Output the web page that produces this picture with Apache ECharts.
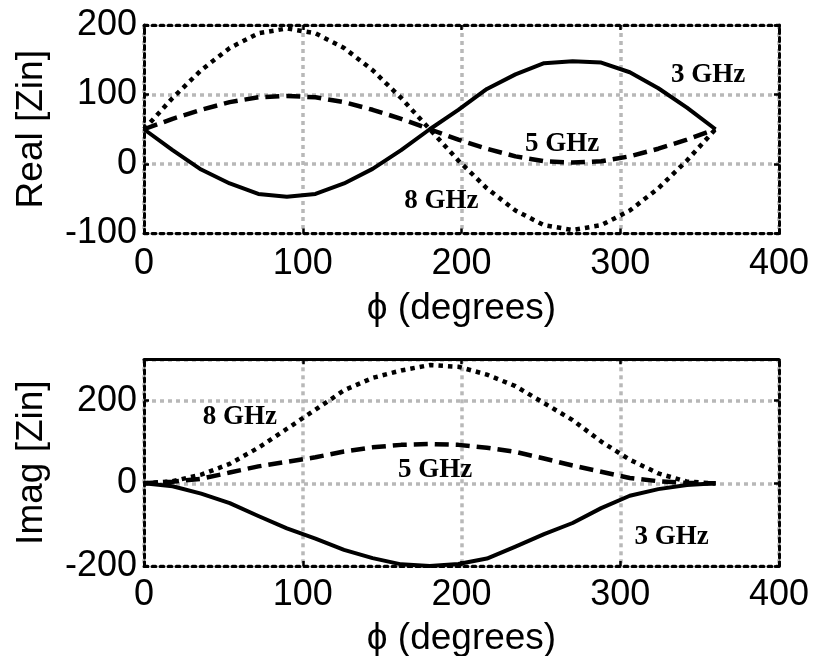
<!DOCTYPE html>
<html><head><meta charset="utf-8">
<script src="https://cdn.jsdelivr.net/npm/echarts@6/dist/echarts.min.js"></script>
<style>html,body{margin:0;padding:0;background:#fff}#c{width:818px;height:656px}</style>
</head><body><div id="c"></div>
<script>
// ---- data ----
const phi = [0,18,36,54,72,90,108,126,144,162,180,198,216,234,252,270,288,306,324,342,360];
const re3 = [50,20,-8,-28,-43,-47,-43,-28,-7,20,50,78,108,129,145,148,146,132,109,81,50];
const re5 = [50,65,78,89,96,98,96,89,78,65,50,35,22,11,4,2,4,11,22,35,50];
const re8 = [50,95,135,167,188,195,188,167,135,95,50,5,-35,-67,-88,-95,-88,-67,-35,5,50];
const im3 = [0,-7,-25,-48,-79,-109,-134,-161,-181,-196,-200,-195,-182,-153,-123,-96,-60,-30,-14,-4,0];
const im5 = [0,4,11,26,41,52,63,77,87,93,95,93,86,76,60,43,28,13,5,1,0];
const im8 = [0,5,21,47,86,132,178,225,255,273,286,282,263,235,194,153,101,57,24,4,0];
const xTicks = [0,100,200,300,400];
const reTicks = [-100,0,100,200];
const imTicks = [-200,0,200];
const reNotes = [[332,128,'3 GHz'],[240,29,'5 GHz'],[164,-53,'8 GHz']];
const imNotes = [[37,161,'8 GHz'],[160,32,'5 GHz'],[309,-129,'3 GHz']];

// ---- style ----
const FONT = '"Liberation Sans", Arial, sans-serif';
const SERIF = '"Liberation Serif", "Times New Roman", serif';
const GRIDC = '#b8b8b8';

function pairs(ys){ return phi.map((x,i)=>[x, ys[i]]); }

function mainX(gi, nameGap, margin){
  return {type:'value', gridIndex:gi, position:'bottom', min:0, max:400, interval:100,
    name:'\u03D5 (degrees)', nameLocation:'middle', nameGap:nameGap,
    nameTextStyle:{fontFamily:FONT, fontSize:37, color:'#000'},
    axisLine:{show:true, onZero:false, lineStyle:{color:'#000', width:3, type:[4,4]}},
    axisTick:{show:true, inside:true, length:5, lineStyle:{color:'#000', width:2.5}},
    axisLabel:{fontFamily:FONT, fontSize:36, color:'#000', margin:margin,
      formatter:v=>xTicks.includes(v)?String(v):''},
    splitLine:{show:true, lineStyle:{color:GRIDC, width:3.5, type:[4,4]}}};
}
function mainY(gi, name, min, max, interval, ticks){
  return {type:'value', gridIndex:gi, position:'left', min:min, max:max, interval:interval,
    name:name, nameLocation:'middle', nameGap:94, nameRotate:90,
    nameTextStyle:{fontFamily:FONT, fontSize:37, color:'#000'},
    axisLine:{show:true, onZero:false, lineStyle:{color:'#000', width:3, type:[4,4]}},
    axisTick:{show:true, inside:true, length:5, lineStyle:{color:'#000', width:2.5}},
    axisLabel:{fontFamily:FONT, fontSize:36, color:'#000', margin:7,
      formatter:v=>ticks.includes(v)?String(v):''},
    splitLine:{show:true, lineStyle:{color:GRIDC, width:3.5, type:[4,4]}}};
}
function frameX(gi, solid){
  return {type:'value', gridIndex:gi, position:'top', min:0, max:400, interval:100,
    axisLine:{show:true, onZero:false, lineStyle:{color:'#000', width:3, type: solid?'solid':[4,4]}},
    axisTick:{show:true, inside:true, length:5, lineStyle:{color:'#000', width:2.5}},
    axisLabel:{show:false}, splitLine:{show:false}};
}
function frameY(gi, min, max, interval){
  return {type:'value', gridIndex:gi, position:'right', min:min, max:max, interval:interval,
    axisLine:{show:true, onZero:false, lineStyle:{color:'#000', width:3, type:[4,4]}},
    axisTick:{show:true, inside:true, length:5, lineStyle:{color:'#000', width:2.5}},
    axisLabel:{show:false}, splitLine:{show:false}};
}
function line(xi, yi, ys, type){
  return {type:'line', xAxisIndex:xi, yAxisIndex:yi, data:pairs(ys), showSymbol:false, symbol:'none',
    lineStyle:{color:'#000', width: type==='solid'?4:4.5, type:type, cap:'butt', join:'round', opacity:1}, z:3};
}
function notes(xi, yi, arr){
  return {type:'scatter', xAxisIndex:xi, yAxisIndex:yi, data:arr, symbolSize:0, silent:true, z:4,
    itemStyle:{opacity:1},
    label:{show:true, position:'right', distance:0, formatter:p=>p.data[2], opacity:1,
      fontFamily:SERIF, fontWeight:'bold', fontSize:27, color:'#000'}};
}

const chart = echarts.init(document.getElementById('c'), null, {renderer:'canvas'});
chart.setOption({
  animation:false,
  backgroundColor:'#fff',
  grid:[
    {left:144, top:25, width:635, height:208.5, outerBoundsMode:'none', containLabel:false},
    {left:144, top:359.3, width:635, height:206.7, outerBoundsMode:'none', containLabel:false}
  ],
  xAxis:[ mainX(0, 57, 13), mainX(1, 54, 11), frameX(0, false), frameX(1, true) ],
  yAxis:[ mainY(0,'Real [Zin]',-100,200,100,reTicks), mainY(1,'Imag [Zin]',-200,300,200,imTicks),
          frameY(0,-100,200,100), frameY(1,-200,300,200) ],
  series:[
    line(0,0,re3,'solid'), line(0,0,re5,[14,7]), line(0,0,re8,[4.5,5]),
    line(1,1,im3,'solid'), line(1,1,im5,[14,7]), line(1,1,im8,[4.5,5]),
    notes(0,0,reNotes), notes(1,1,imNotes)
  ]
});
</script></body></html>
